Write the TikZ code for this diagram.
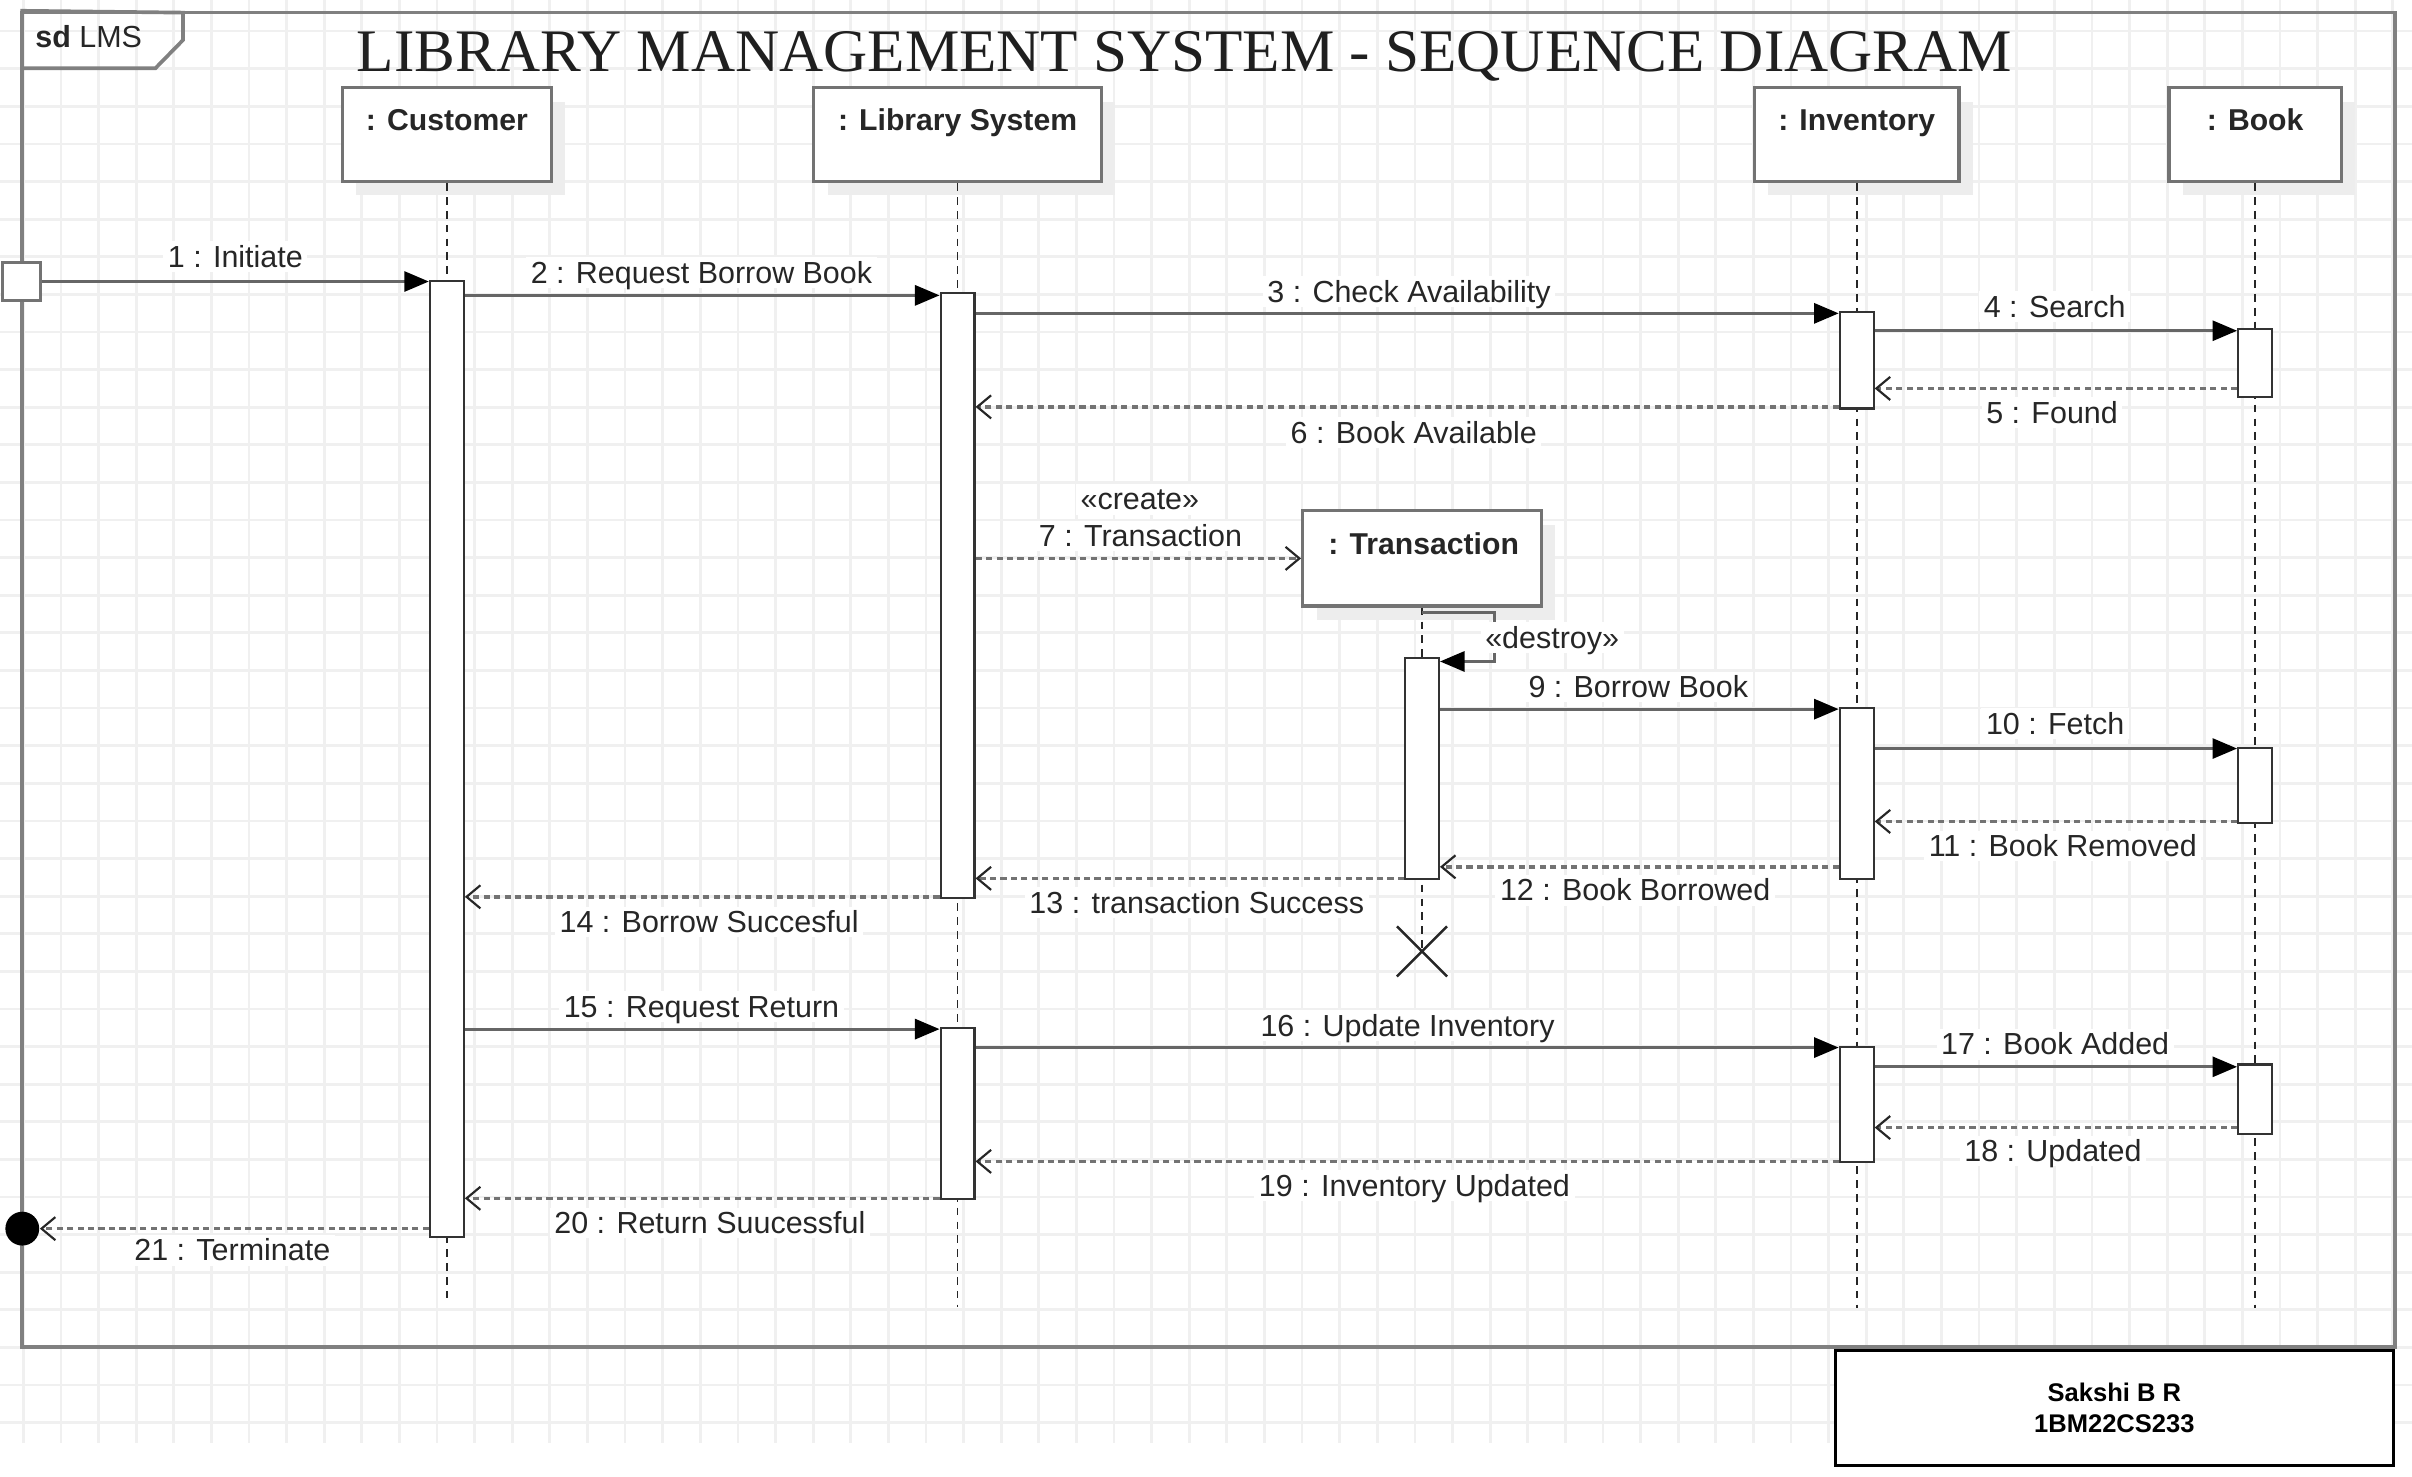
\documentclass[tikz,border=0pt]{standalone}
\usepackage{graphicx}
\usepackage{fontspec}
\setmainfont{Liberation Sans}
\newfontfamily\titlefont{Liberation Serif}
\usetikzlibrary{arrows.meta,shapes.misc,shadows}
\newcommand\actv[4]{\node[actbox, minimum height={(#4-#3)*0.5pt}] (#1) at (#2,{(#3+#4)/2}) {};}
\begin{document}
\begin{tikzpicture}[x=0.5pt,y=-0.5pt,
  gridline/.style={draw=black!6, line width=0.9pt},
  framestyle/.style={draw=black!50, line width=1.2pt},
  headbox/.style={draw=black!55, line width=1.1pt, fill=white, inner sep=0pt,
     drop shadow={shadow xshift=4.5pt, shadow yshift=-4.5pt, fill=black!7, opacity=1}},
  headtxt/.style={font=\fontsize{9.8}{11}\selectfont\bfseries, text=black!85, inner sep=0pt, text height=7pt, text depth=0pt},
  actbox/.style={draw=black!80, fill=white, line width=0.7pt, minimum width=11pt, inner sep=0pt},
  msg/.style={draw=black!60, line width=1pt, -{Triangle[length=8pt,width=6.5pt,color=black]}},
  ret/.style={draw=black!55, line width=1.1pt, dash pattern=on 2pt off 1.4pt,
     -{Straight Barb[length=4.5pt,width=7.5pt,color=black!85,line width=0.7pt]}},
  life/.style={draw=black!85, line width=0.55pt, dash pattern=on 2.5pt off 2pt},
  lbl/.style={font=\fontsize{9.9}{11}\selectfont, text=black!85, fill=white, inner xsep=1.5pt, inner ysep=1.5pt, text height=7pt, text depth=0pt}
]
\useasboundingbox (0,0) rectangle (1568,960);
% grid
\foreach \i in {0,...,63} { \draw[gridline] ({15.15+24.45*\i},0) -- ({15.15+24.45*\i},938); }
\foreach \j in {0,...,37} { \draw[gridline] (0,{20.2+24.45*\j}) -- (1568,{20.2+24.45*\j}); }
% frame
\node[framestyle, minimum width=771.25pt, minimum height=433.65pt, inner sep=0pt] (frame) at (785.75,441.85) {};
\draw[framestyle] (frame.north west) -- (119,8.2) -- (119,26) -- (101,44.4) -- (frame.north west |- 0,44.4);
\node[anchor=west, font=\fontsize{9.9}{11}\selectfont, text=black!85, inner sep=0pt, text height=7pt, text depth=0pt] (sd) at (22.6,23.8) {\textbf{sd} LMS};
% title
\node[anchor=base, inner sep=0pt, text=black!88] (title) at (770,46.6) {\resizebox{538pt}{13pt}{\titlefont LIBRARY MANAGEMENT SYSTEM - SEQUENCE DIAGRAM}};
% heads
\node[headbox, minimum width=68pt, minimum height=30.5pt] (cust) at (290.5,87.5) {};
\node[headbox, minimum width=93.5pt, minimum height=30.5pt] (lib) at (622.5,87.5) {};
\node[headbox, minimum width=66.5pt, minimum height=30.5pt] (inv) at (1207,87.5) {};
\node[headbox, minimum width=56pt, minimum height=30.5pt] (book) at (1466,87.5) {};
\node[headbox, minimum width=77.5pt, minimum height=31pt] (trans) at (924.4,363) {};
\node[headtxt] (custt) at (290.5,78) {: Customer};
\node[headtxt] (libt) at (622.5,78) {: Library System};
\node[headtxt] (invt) at (1207,78) {: Inventory};
\node[headtxt] (bookt) at (1466,78) {: Book};
\node[headtxt] (transt) at (925.5,353.5) {: Transaction};
% lifelines
\node[draw=black!85, cross out, line width=0.8pt, minimum width=15.5pt, minimum height=15.5pt, inner sep=0pt] (xd) at (924.4,618.5) {};
\draw[life] (cust.south) -- (cust.south |- 0,846.4);
\draw[life] (lib.south) -- (lib.south |- 0,849.6);
\draw[life] (inv.south) -- (inv.south |- 0,850.5);
\draw[life] (book.south) -- (book.south |- 0,850.5);
\draw[life] (trans.south) -- (xd.center);
% activations
\actv{a1}{290.5}{182.5}{804}
\actv{a2}{622.5}{190.5}{583.5}
\actv{a3}{622.5}{668}{779.5}
\actv{a4}{1207}{203}{265.5}
\actv{a5}{1207}{460}{571.5}
\actv{a6}{1207}{680.5}{755.5}
\actv{a7}{1466}{214}{258}
\actv{a8}{1466}{486}{535}
\actv{a9}{1466}{692}{737}
\actv{a10}{924.4}{428}{571.5}
% start / end
\node[draw=black!55, line width=1.1pt, fill=white, minimum size=12.5pt, inner sep=0pt] (init) at (14,183) {};
\node[circle, fill=black, minimum size=11pt, inner sep=0pt] (fin) at (14.5,798.7) {};
% messages
\draw[msg] (init.east) -- (a1.west |- init.east);
\draw[msg] (a1.east |- 0,192) -- (a2.west |- 0,192);
\draw[msg] (a2.east |- 0,203.7) -- (a4.west |- 0,203.7);
\draw[msg] (a4.east |- 0,215) -- (a7.west |- 0,215);
\draw[ret] (a7.west |- 0,252.5) -- (a4.east |- 0,252.5);
\draw[ret] (a4.west |- 0,264.5) -- (a2.east |- 0,264.5);
\draw[ret] (a2.east |- 0,363) -- (trans.west);
\coordinate (d0) at (924.4,398);
\draw[msg] (d0) -- (971.5,398) |- (a10.east |- 0,430);
\draw[msg] (a10.east |- 0,461) -- (a5.west |- 0,461);
\draw[msg] (a5.east |- 0,486.6) -- (a8.west |- 0,486.6);
\draw[ret] (a8.west |- 0,534) -- (a5.east |- 0,534);
\draw[ret] (a5.west |- 0,563.5) -- (a10.east |- 0,563.5);
\draw[ret] (a10.west |- 0,571) -- (a2.east |- 0,571);
\draw[ret] (a2.west |- 0,583) -- (a1.east |- 0,583);
\draw[msg] (a1.east |- 0,669) -- (a3.west |- 0,669);
\draw[msg] (a3.east |- 0,681) -- (a6.west |- 0,681);
\draw[msg] (a6.east |- 0,693.5) -- (a9.west |- 0,693.5);
\draw[ret] (a9.west |- 0,733) -- (a6.east |- 0,733);
\draw[ret] (a6.west |- 0,755) -- (a3.east |- 0,755);
\draw[ret] (a3.west |- 0,779) -- (a1.east |- 0,779);
\draw[ret] (a1.west |- 0,798.7) -- (fin.east);
% labels
\node[lbl] (l1) at (153,166.9) {1 : Initiate};
\node[lbl] (l2) at (456,177.3) {2 : Request Borrow Book};
\node[lbl] (l3) at (916,189.6) {3 : Check Availability};
\node[lbl] (l4) at (1335.7,199.4) {4 : Search};
\node[lbl] (l5) at (1334,268) {5 : Found};
\node[lbl] (l6) at (919,281) {6 : Book Available};
\node[lbl] (l7a) at (741,324.5) {«create»};
\node[lbl] (l7b) at (741.4,348.5) {7 : Transaction};
\node[lbl] (l8) at (1009,414.6) {«destroy»};
\node[lbl] (l9) at (1065,446.6) {9 : Borrow Book};
\node[lbl] (l10) at (1336,470.3) {10 : Fetch};
\node[lbl] (l11) at (1341,550) {11 : Book Removed};
\node[lbl] (l12) at (1063,578.7) {12 : Book Borrowed};
\node[lbl] (l13) at (778,586.8) {13 : transaction Success};
\node[lbl] (l14) at (461,599.3) {14 : Borrow Succesful};
\node[lbl] (l15) at (456,654.5) {15 : Request Return};
\node[lbl] (l16) at (915,666.8) {16 : Update Inventory};
\node[lbl] (l17) at (1336,678.8) {17 : Book Added};
\node[lbl] (l18) at (1334.6,748.2) {18 : Updated};
\node[lbl] (l19) at (919.5,770.7) {19 : Inventory Updated};
\node[lbl] (l20) at (461.5,795) {20 : Return Suucessful};
\node[lbl] (l21) at (151,812.7) {21 : Terminate};
% author box
\node[draw=black, line width=0.9pt, fill=white, minimum width=181.5pt, minimum height=37.25pt, align=center, inner sep=0pt, font=\fontsize{8.3}{10}\selectfont\bfseries] (auth) at (1374.5,915.25) {Sakshi B R\\1BM22CS233};
\end{tikzpicture}
\end{document}
